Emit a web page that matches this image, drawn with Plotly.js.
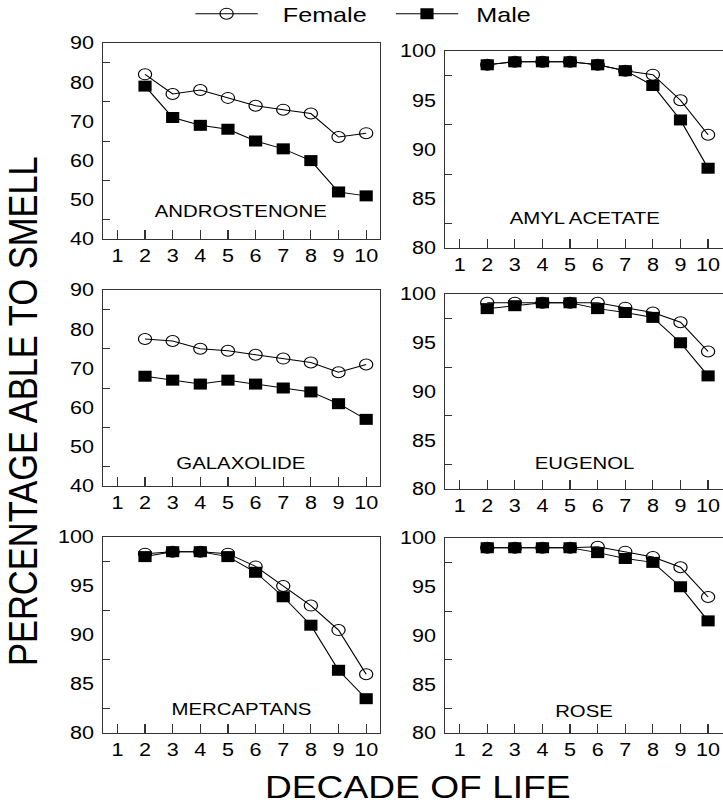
<!DOCTYPE html>
<html>
<head>
<meta charset="utf-8">
<script src="https://cdn.plot.ly/plotly-3.0.1.min.js"></script>
<style>
  html, body { margin: 0; padding: 0; background: #fff; overflow: hidden; }
  #wrap { width: 603px; height: 806px; transform: scaleX(1.199); transform-origin: 0 0; }
</style>
</head>
<body>
<div id="wrap"><div id="chart"></div></div>
<script>
// ---- data ----
const decades = [2, 3, 4, 5, 6, 7, 8, 9, 10];
const xTickVals = [1, 2, 3, 4, 5, 6, 7, 8, 9, 10];
const xTickText = ['1', '2', '3', '4', '5', '6', '7', '8', '9', '10'];
const yTicksLow = [40, 50, 60, 70, 80, 90];
const yTicksHigh = [80, 85, 90, 95, 100];

const odorNames = ['ANDROSTENONE', 'AMYL ACETATE', 'GALAXOLIDE', 'EUGENOL', 'MERCAPTANS', 'ROSE'];
const seriesNames = ['Female', 'Male'];

const androFemale = [82, 77, 78, 76, 74, 73, 72, 66, 67];
const androMale   = [79, 71, 69, 68, 65, 63, 60, 52, 51];
const amylFemale  = [98.6, 98.9, 98.9, 98.9, 98.6, 98.0, 97.6, 95.0, 91.5];
const amylMale    = [98.6, 98.9, 98.9, 98.9, 98.6, 98.0, 96.5, 93.0, 88.1];
const galaxFemale = [77.5, 77, 75, 74.5, 73.5, 72.5, 71.5, 69, 71];
const galaxMale   = [68, 67, 66, 67, 66, 65, 64, 61, 57];
const eugFemale   = [99.1, 99.1, 99.1, 99.1, 99.1, 98.6, 98.1, 97.1, 94.1];
const eugMale     = [98.5, 98.8, 99.1, 99.1, 98.5, 98.1, 97.6, 95.0, 91.6];
const mercFemale  = [98.3, 98.5, 98.5, 98.3, 97.0, 95.0, 93.0, 90.5, 86.0];
const mercMale    = [98.0, 98.5, 98.5, 98.0, 96.4, 93.9, 91.0, 86.4, 83.5];
const roseFemale  = [99.0, 99.0, 99.0, 99.0, 99.1, 98.6, 98.05, 97.0, 93.95];
const roseMale    = [99.0, 99.0, 99.0, 99.0, 98.5, 97.9, 97.5, 95.0, 91.5];

const femaleSeries = [androFemale, amylFemale, galaxFemale, eugFemale, mercFemale, roseFemale];
const maleSeries   = [androMale, amylMale, galaxMale, eugMale, mercMale, roseMale];

// ---- layout geometry (pixel boxes in the 723x806 reference) ----
const W = 723, H = 806;
const FONT = 'Liberation Sans, Arial, Helvetica, sans-serif';
const panels = [
  {xd: [103, 380], yd: [43, 239],  yr: [40, 90],  yt: yTicksLow,  minor0: 45,   minorD: 10, lab: 0.138, right: false},
  {xd: [445, 723], yd: [51, 248],  yr: [80, 100], yt: yTicksHigh, minor0: 82.5, minorD: 5,  lab: 0.152, right: true},
  {xd: [103, 380], yd: [290, 486], yr: [40, 90],  yt: yTicksLow,  minor0: 45,   minorD: 10, lab: 0.117, right: false},
  {xd: [445, 723], yd: [294, 489], yr: [80, 100], yt: yTicksHigh, minor0: 82.5, minorD: 5,  lab: 0.133, right: true},
  {xd: [103, 380], yd: [537, 733], yr: [80, 100], yt: yTicksHigh, minor0: 82.5, minorD: 5,  lab: 0.122, right: false},
  {xd: [445, 723], yd: [538, 733], yr: [80, 100], yt: yTicksHigh, minor0: 82.5, minorD: 5,  lab: 0.112, right: true}
];

const NB = '\u00a0', TH = '\u2009';
const legendNames = [NB + NB + TH + seriesNames[0] + NB + TH + TH, NB + TH + seriesNames[1]];
const traces = [];
const layout = {
  width: 603, height: 806,
  margin: {l: 0, r: 0, t: 0, b: 0, autoexpand: false},
  paper_bgcolor: '#fff', plot_bgcolor: '#fff',
  font: {family: FONT, color: '#000'},
  showlegend: true,
  legend: {
    orientation: 'h', x: 0.262, xanchor: 'left', y: 1 - 14 / H, yanchor: 'middle',
    font: {family: FONT, size: 21, color: '#000'}, itemwidth: 52, bgcolor: 'rgba(0,0,0,0)',
    tracegroupgap: 0
  },
  annotations: []
};

panels.forEach((p, i) => {
  const n = i + 1;
  const xa = 'x' + (n === 1 ? '' : n), ya = 'y' + (n === 1 ? '' : n);
  traces.push({
    x: decades, y: femaleSeries[i], xaxis: xa, yaxis: ya, type: 'scatter', mode: 'lines+markers',
    name: legendNames[0], showlegend: i === 0, legendgroup: 'f',
    line: {color: '#000', width: 1},
    marker: {symbol: 'circle-open', size: 11, color: '#000', line: {width: 1, color: '#000'}},
    cliponaxis: false
  });
  traces.push({
    x: decades, y: maleSeries[i], xaxis: xa, yaxis: ya, type: 'scatter', mode: 'lines+markers',
    name: legendNames[1], showlegend: i === 0, legendgroup: 'm',
    line: {color: '#000', width: 1},
    marker: {symbol: 'square', size: 11, color: '#000'},
    cliponaxis: false
  });
  const xr = p.right ? [0.47, 10.54] : [0.48, 10.5];
  layout['xaxis' + (n === 1 ? '' : n)] = {
    domain: [p.xd[0] / W, p.xd[1] / W], range: xr, anchor: ya,
    showline: true, linecolor: '#333', linewidth: 1, mirror: true,
    showgrid: false, zeroline: false,
    tickmode: 'array', tickvals: xTickVals, ticktext: xTickText,
    ticks: 'inside', ticklen: 9, tickwidth: 1, tickcolor: '#333',
    tickfont: {family: FONT, size: 18, color: '#000'}, ticklabelstandoff: 0,
    fixedrange: true
  };
  layout['yaxis' + (n === 1 ? '' : n)] = {
    domain: [1 - p.yd[1] / H, 1 - p.yd[0] / H], range: p.yr, anchor: xa,
    showline: true, linecolor: '#333', linewidth: 1, mirror: p.right ? false : true,
    showgrid: false, zeroline: false,
    tickmode: 'array', tickvals: p.yt, ticktext: p.yt.map(String), ticks: '',
    minor: {tickmode: 'linear', tick0: p.minor0, dtick: p.minorD, ticks: 'inside', ticklen: 6, tickwidth: 1, tickcolor: '#333', showgrid: false},
    tickfont: {family: FONT, size: 18, color: '#000'}, ticklabelstandoff: 3,
    fixedrange: true
  };
  layout.annotations.push({
    text: odorNames[i], xref: xa + ' domain', yref: ya + ' domain', x: 0.5, y: p.lab,
    xanchor: 'center', yanchor: 'middle', showarrow: false,
    font: {family: FONT, size: 17, color: '#000'}
  });
});

layout.annotations.push({
  text: 'PERCENTAGE ABLE TO SMELL', xref: 'paper', yref: 'paper', x: 23 / W, y: 1 - 411 / H,
  xanchor: 'center', yanchor: 'middle', textangle: -90, showarrow: false,
  font: {family: FONT, size: 34.5, color: '#000'}
});
layout.annotations.push({
  text: 'DECADE OF LIFE', xref: 'paper', yref: 'paper', x: 418 / W, y: 1 - 787 / H,
  xanchor: 'center', yanchor: 'middle', showarrow: false,
  font: {family: FONT, size: 31, color: '#000'}
});

Plotly.newPlot('chart', traces, layout, {displayModeBar: false, staticPlot: true});
</script>
</body>
</html>
